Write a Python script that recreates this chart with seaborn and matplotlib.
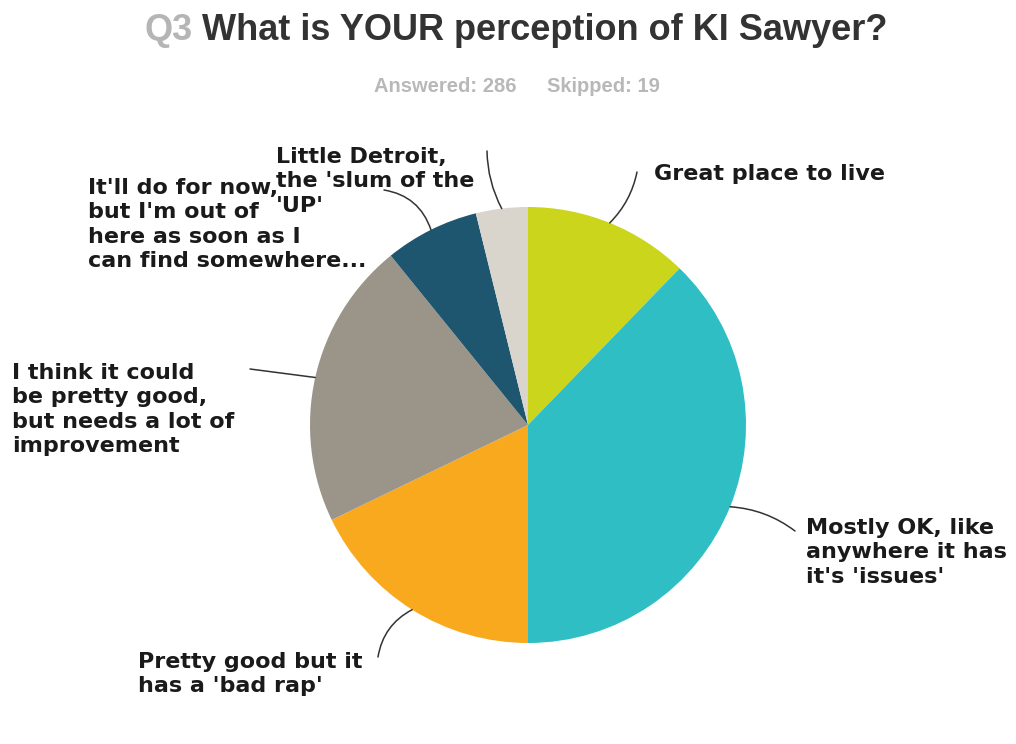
import numpy as np
import matplotlib
matplotlib.use("Agg")
import matplotlib.pyplot as plt
import seaborn as sns

# Survey responses (counts), clockwise from 12 o'clock
categories = [
    "Great place to live",
    "Mostly OK, like\nanywhere it has\nit's 'issues'",
    "Pretty good but it\nhas a 'bad rap'",
    "I think it could\nbe pretty good,\nbut needs a lot of\nimprovement",
    "It'll do for now,\nbut I'm out of\nhere as soon as I\ncan find somewhere...",
    "Little Detroit,\nthe 'slum of the\n'UP'",
]
counts = [35, 108, 51, 61, 20, 11]
answered = 286
skipped = 19

slice_colors = ["#CBD51B", "#2FBEC3", "#F8A91E", "#9B9589", "#1F566F", "#D9D4CC"]

sns.set_theme(style="white")
plt.rcParams["font.family"] = ["DejaVu Sans"]

W, H = 1016, 744
fig = plt.figure(figsize=(W / 100, H / 100), dpi=100)
fig.patch.set_facecolor("white")
ax = fig.add_axes([0, 0, 1, 1])

cx, cy, R = 528, H - 425, 218
wedges, _ = ax.pie(
    counts,
    colors=sns.color_palette(slice_colors),
    startangle=90,
    counterclock=False,
    center=(cx, cy),
    radius=R,
    wedgeprops=dict(linewidth=0),
)
ax.set_xlim(0, W)
ax.set_ylim(0, H)
ax.set_aspect("equal")
ax.axis("off")

# label block placement (left x, top y of first line in px from top), leader end, curvature
label_layout = [
    dict(x=654, y=164, end=(637, 172), rad=-0.15),
    dict(x=806, y=518, end=(795, 531), rad=0.15),
    dict(x=138, y=652, end=(378, 657), rad=-0.25),
    dict(x=12, y=363, end=(250, 369), rad=0.0),
    dict(x=88, y=178, end=(384, 190), rad=-0.3),
    dict(x=276, y=147, end=(487, 151), rad=0.12),
]

for w, label, lay in zip(wedges, categories, label_layout):
    mid = np.deg2rad((w.theta1 + w.theta2) / 2)
    ax_pt = (cx + R * np.cos(mid), cy + R * np.sin(mid))
    ex, ey = lay["end"]
    ax.annotate(
        "", xy=ax_pt, xytext=(ex, H - ey),
        arrowprops=dict(arrowstyle="-", color="#333333", lw=1.1,
                        shrinkA=0, shrinkB=0,
                        connectionstyle=f"arc3,rad={lay['rad']}"),
    )
    ax.text(lay["x"], H - lay["y"], label, ha="left", va="top",
            fontsize=16, fontweight="bold", color="#1a1a1a",
            linespacing=1.28)

# title: question number in grey, question text in dark grey
ax.text(145, H - 31, "Q3", ha="left", va="center", fontsize=26,
        fontweight="bold", color="#b5b5b5", family="Liberation Sans")
ax.text(202, H - 31, "What is YOUR perception of KI Sawyer?", ha="left",
        va="center", fontsize=26, fontweight="bold", color="#333333",
        family="Liberation Sans")
ax.text(374, H - 87, f"Answered: {answered}", ha="left", va="center",
        fontsize=14.5, fontweight="bold", color="#b8b8b8",
        family="Liberation Sans")
ax.text(547, H - 87, f"Skipped: {skipped}", ha="left", va="center",
        fontsize=14.5, fontweight="bold", color="#b8b8b8",
        family="Liberation Sans")

fig.savefig("out.png", dpi=100, facecolor="white")
